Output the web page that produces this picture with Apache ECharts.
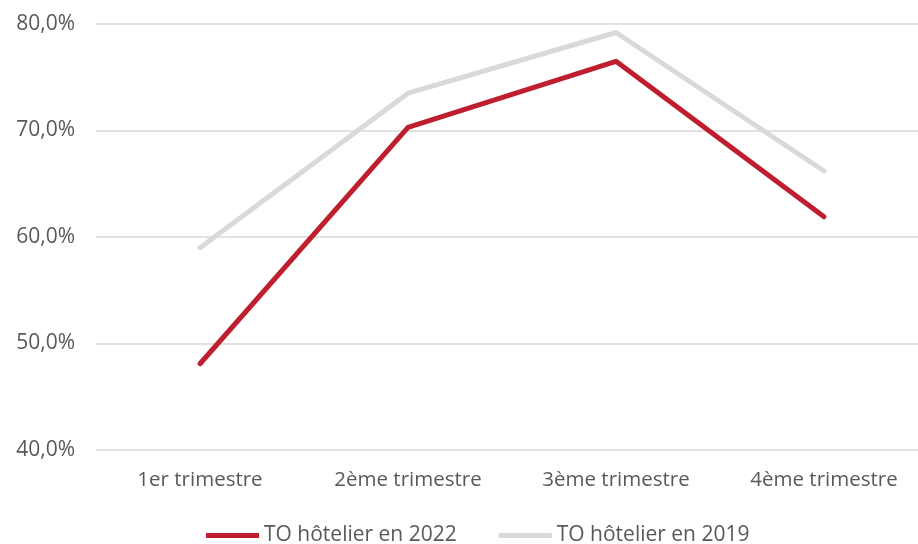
<!DOCTYPE html>
<html>
<head>
<meta charset="utf-8">
<script src="https://cdn.jsdelivr.net/npm/echarts@6/dist/echarts.min.js"></script>
<style>html,body{margin:0;padding:0;background:#fff}#c{width:918px;height:544px}</style>
</head>
<body>
<div id="c"></div>
<script>
var categories = ['1er trimestre', '2ème trimestre', '3ème trimestre', '4ème trimestre'];
var series2022 = [48.1, 70.3, 76.5, 61.9];
var series2019 = [59.0, 73.5, 79.2, 66.2];
var seriesNames = ['TO hôtelier en 2022', 'TO hôtelier en 2019'];

var chart = echarts.init(document.getElementById('c'));
var font = '"Open Sans", "Noto Sans", sans-serif';
chart.setOption({
  animation: false,
  textStyle: { fontFamily: font },
  grid: { left: 96, width: 832, top: 24, bottom: 94, outerBoundsMode: 'none', containLabel: false },
  legend: {
    top: 520, left: 201,
    icon: 'rect', itemWidth: 53, itemHeight: 5, itemGap: 42,
    textStyle: { fontSize: 21, color: '#595959', fontFamily: font, padding: [0, 0, 0, 0] },
    data: seriesNames
  },
  xAxis: {
    type: 'category', data: categories, boundaryGap: true,
    axisLine: { show: false }, axisTick: { show: false },
    axisLabel: { fontSize: 20.5, color: '#595959', margin: 20, fontFamily: font }
  },
  yAxis: {
    type: 'value', min: 40, max: 80, interval: 10,
    axisLine: { show: false }, axisTick: { show: false },
    splitLine: { lineStyle: { color: '#d9d9d9', width: 1.5 } },
    axisLabel: { fontSize: 21, color: '#595959', margin: 21, fontFamily: font,
      formatter: function (v) { return v.toFixed(1).replace('.', ',') + '%'; } }
  },
  series: [
    { name: seriesNames[1], type: 'line', data: series2019, showSymbol: false, z: 1,
      itemStyle: { color: '#d9d9d9' }, lineStyle: { color: '#d9d9d9', width: 5, cap: 'round', join: 'round' } },
    { name: seriesNames[0], type: 'line', data: series2022, showSymbol: false, z: 2,
      itemStyle: { color: '#be1e2d' }, lineStyle: { color: '#be1e2d', width: 5, cap: 'round', join: 'round' } }
  ]
});
</script>
</body>
</html>
